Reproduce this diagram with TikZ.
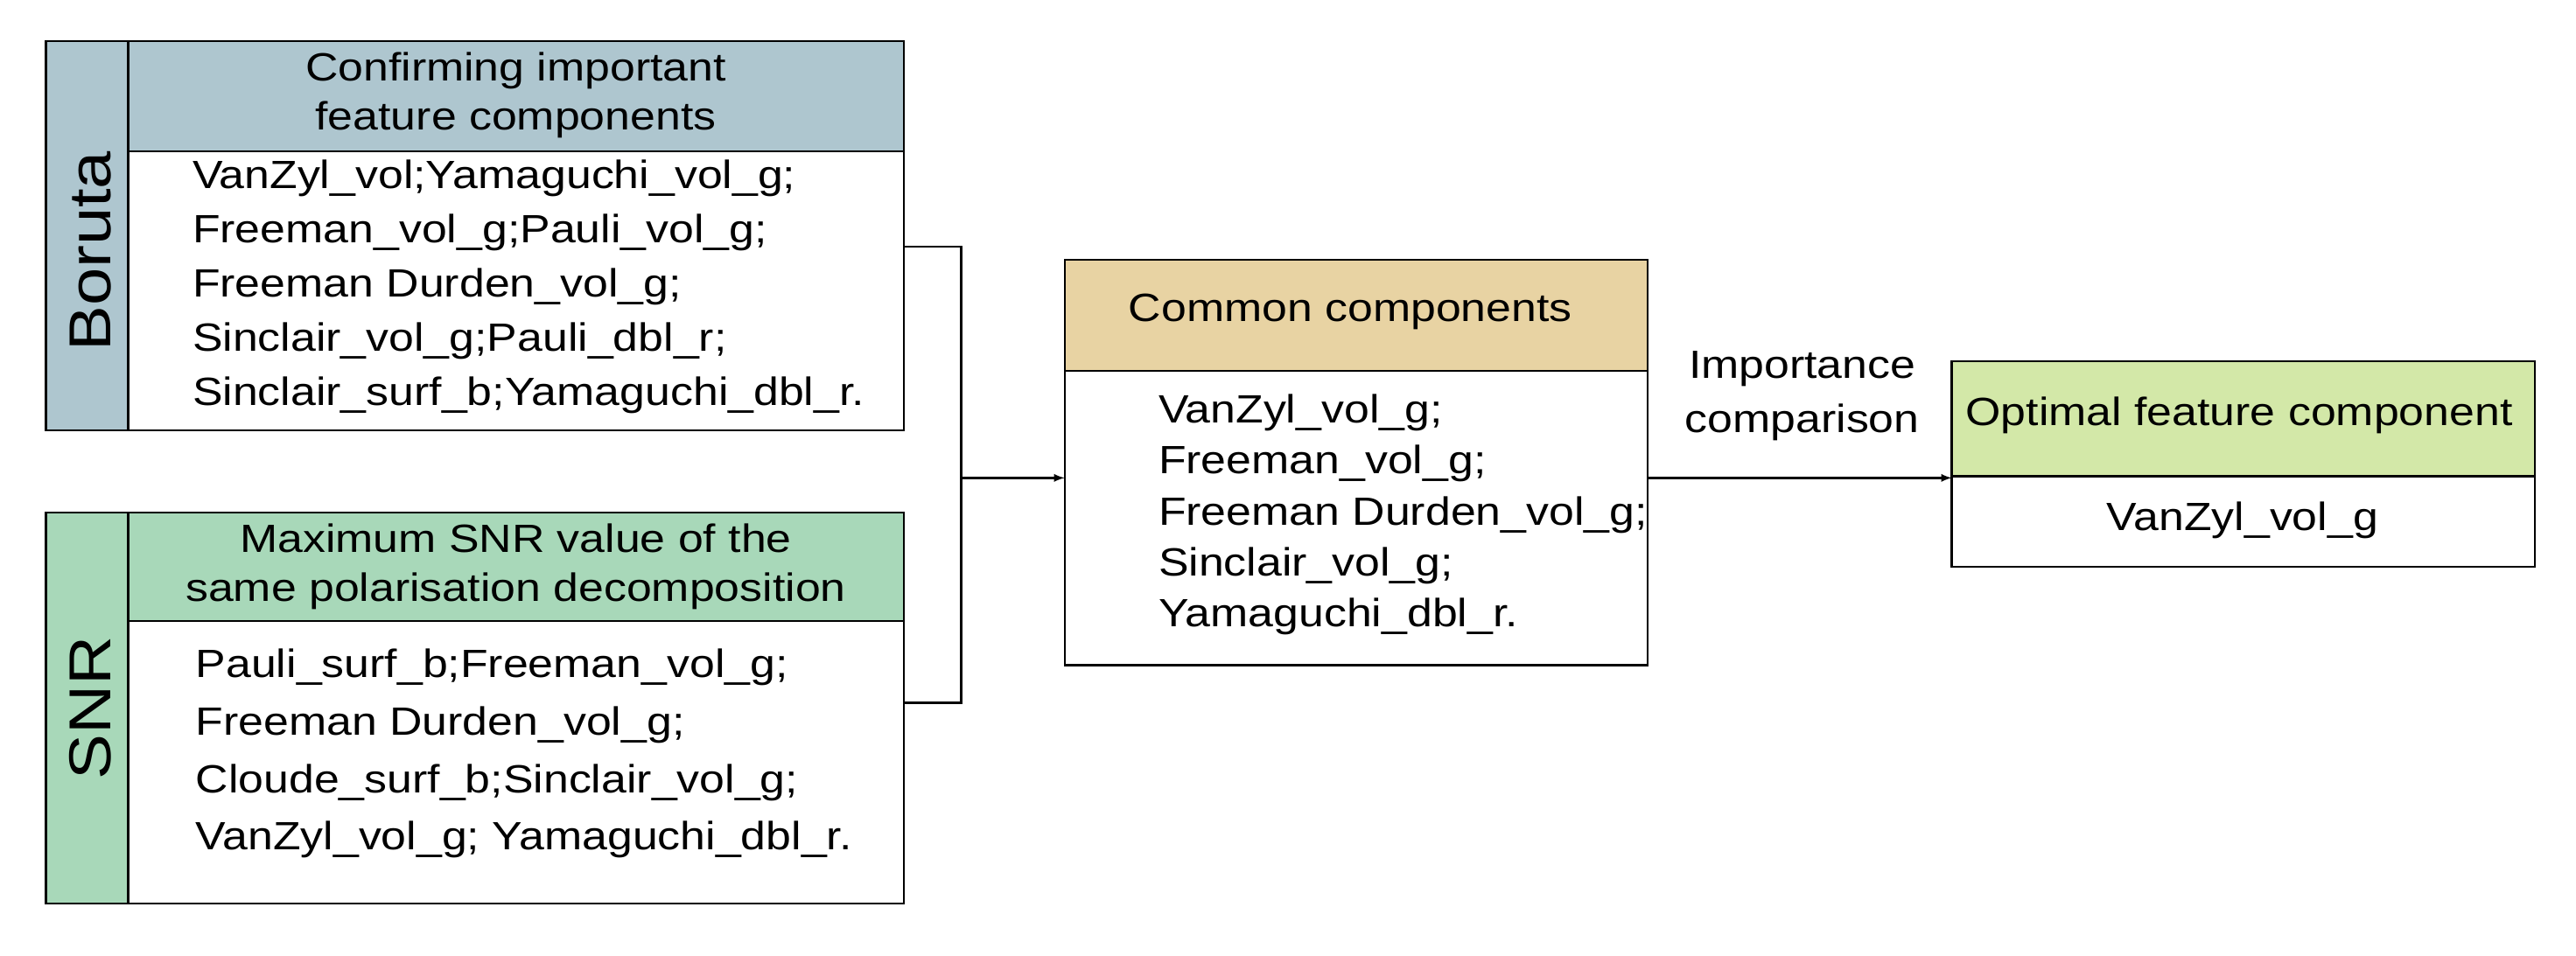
\documentclass[tikz,border=0pt]{standalone}
\usepackage{fontspec}
\setmainfont{Liberation Sans}[FakeStretch=1.15]
\begin{document}
\begin{tikzpicture}[x=1pt,y=-1pt,
  box/.style={draw=black,line width=1.2pt,inner sep=0pt,anchor=north west},
  txt/.style={font=\fontsize{24}{33}\selectfont,align=left,anchor=north west,inner sep=0pt},
  htxt/.style={font=\fontsize{24}{30}\selectfont,align=center,inner sep=0pt},
  band/.style={font=\fontsize{36}{40}\selectfont,rotate=90,inner sep=0pt},
  line/.style={line width=1.2pt}]
\definecolor{bor}{HTML}{AEC6CF}
\definecolor{snr}{HTML}{A8D8B9}
\definecolor{com}{HTML}{E8D3A3}
\definecolor{opt}{HTML}{D3E8A8}
\useasboundingbox (0,0) rectangle (1568,582);
% Boruta
\filldraw[fill=bor,line] (28,25) rectangle (78,262);
\node[band] (bl) at (55,153) {Boruta};
\filldraw[fill=bor,line] (78,25) rectangle (550,92);
\node[htxt] (bh) at (314,58) {Confirming important\\feature components};
\draw[line] (78,92) rectangle (550,262);
\node[txt] (bb) at (117,97) {VanZyl\_vol;Yamaguchi\_vol\_g;\\Freeman\_vol\_g;Pauli\_vol\_g;\\Freeman Durden\_vol\_g;\\Sinclair\_vol\_g;Pauli\_dbl\_r;\\Sinclair\_surf\_b;Yamaguchi\_dbl\_r.};
\coordinate (bo) at (550,150);
% SNR
\filldraw[fill=snr,line] (28,312) rectangle (78,550);
\node[band] (sl) at (55,431) {SNR};
\filldraw[fill=snr,line] (78,312) rectangle (550,378);
\node[htxt] (sh) at (314,345) {Maximum SNR value of the\\same polarisation decomposition};
\draw[line] (78,378) rectangle (550,550);
\node[txt,font=\fontsize{24}{35}\selectfont] (sb) at (119,395) {Pauli\_surf\_b;Freeman\_vol\_g;\\Freeman Durden\_vol\_g;\\Cloude\_surf\_b;Sinclair\_vol\_g;\\VanZyl\_vol\_g; Yamaguchi\_dbl\_r.};
\coordinate (so) at (550,428);
% Common
\filldraw[fill=com,line] (648,158) rectangle (1003,226);
\node[htxt] (ch) at (822,190) {Common components};
\draw[line] (648,226) rectangle (1003,405);
\node[txt,font=\fontsize{24}{31}\selectfont] (cb) at (705,240) {VanZyl\_vol\_g;\\Freeman\_vol\_g;\\Freeman Durden\_vol\_g;\\Sinclair\_vol\_g;\\Yamaguchi\_dbl\_r.};
\coordinate (ci) at (648,291);
\coordinate (co) at (1003,291);
% Optimal
\filldraw[fill=opt,line] (1188,220) rectangle (1543,290);
\node[htxt] (oh) at (1363,253) {Optimal feature component};
\draw[line] (1188,290) rectangle (1543,345);
\node[htxt] (ob) at (1365,317) {VanZyl\_vol\_g};
\coordinate (oi) at (1188,291);
% connectors
\coordinate (j) at (585,291);
\draw[line] (bo) -| (j) |- (so);
\draw[line,-latex] (j) -- (ci);
\draw[line,-latex] (co) -- (oi);
\node[htxt,font=\fontsize{24}{33}\selectfont] (il) at (1097,241) {Importance\\comparison};
\end{tikzpicture}
\end{document}
